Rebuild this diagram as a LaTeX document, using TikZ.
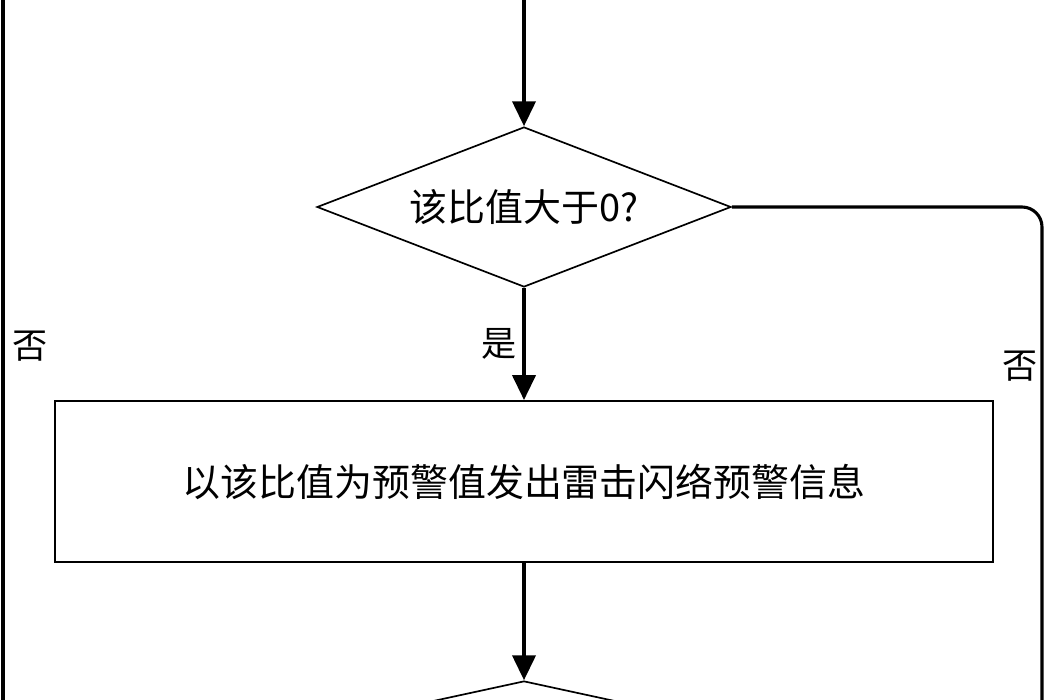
\documentclass[tikz,border=0pt]{standalone}
\usepackage{fontspec}
\usepackage{tikz}
\usetikzlibrary{arrows.meta}
\usetikzlibrary{shapes.geometric}
\setmainfont{Noto Sans CJK SC}
\tikzset{flow/.style = {-{Triangle[length=0.62cm, width=0.58cm]}, line width=2.2pt},
         link/.style = {line width=2.2pt},
         decision/.style = {draw, diamond, shape aspect=2.6, line width=1.2pt, inner sep=0pt,
                            font=\fontsize{27}{30}\selectfont},
         action/.style = {draw, rectangle, line width=1.6pt, inner sep=0pt,
                          font=\fontsize{27}{30}\selectfont},
         answer/.style = {font=\fontsize{25}{28}\selectfont, inner sep=4pt}}

\begin{document}
\begin{tikzpicture}
      \useasboundingbox (0, 0) rectangle (26.15, -17.5);
      \clip (0, 0) rectangle (26.15, -17.5);

      \coordinate (top) at (13.1, 0.3);
      \coordinate (ltop) at (0.075, 0.5);
      \coordinate (lbot) at (0.075, -18);
      \coordinate (rbot) at (26.05, -18);

      \node [decision, minimum width=10.35cm, minimum height=4cm] (ratio) at (13.1, -5.175) {该比值大于0?};
      \node [action, minimum width=23.45cm, minimum height=4.025cm] (warn) at (13.1, -12.04) {以该比值为预警值发出雷击闪络预警信息};
      \node [decision, minimum width=18.4cm, minimum height=4cm] (next) at (13.1, -19.025) {};

      \draw [flow] (top) -- (ratio.north);
      \draw [flow] (ratio.south) -- node [answer, midway, left] (yes) {是} (warn.north);
      \draw [flow] (warn.south) -- (next.north);

      \draw [link, rounded corners=0.5cm] (ratio.east) -| node [answer, pos=0.655, left, inner sep=2pt] (noright) {否} (rbot);
      \draw [link] (ltop) -- node [answer, pos=0.495, right, inner sep=6pt] (noleft) {否} (lbot);
    \end{tikzpicture}
\end{document}
